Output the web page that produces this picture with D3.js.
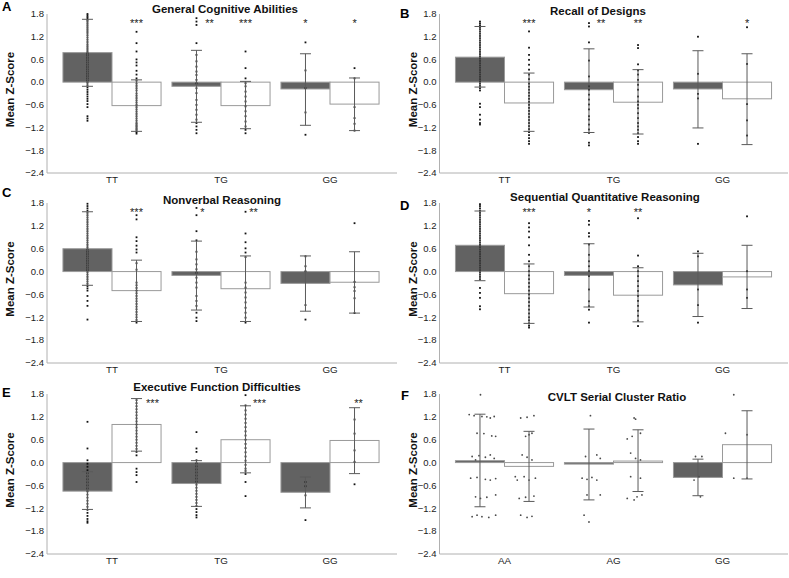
<!DOCTYPE html>
<html><head><meta charset="utf-8">
<script src="https://cdn.jsdelivr.net/npm/d3@7/dist/d3.min.js"></script>
<style>
html,body{margin:0;padding:0;background:#fff;}
svg{display:block;font-family:Arial,"Liberation Sans",sans-serif;}
</style></head>
<body><svg id="chart" width="789" height="578"></svg>
<script>
// ---------- DATA ----------
const genotypeCats = ["TT", "TG", "GG"];
const cvltCats = ["AA", "AG", "GG"];
const yTicks = [-2.4, -1.8, -1.2, -0.6, 0.0, 0.6, 1.2, 1.8];
const panelTitles = ["General Cognitive Abilities", "Recall of Designs", "Nonverbal Reasoning",
  "Sequential Quantitative Reasoning", "Executive Function Difficulties", "CVLT Serial Cluster Ratio"];
const panelLetters = ["A", "B", "C", "D", "E", "F"];

// means per category: [dark, white]
const aMean = [[0.78, -0.62], [-0.11, -0.62], [-0.18, -0.58]];
const aLow  = [[-0.11, -1.30], [-1.06, -1.23], [-1.14, -1.28]];
const aHigh = [[1.66, 0.06], [0.84, 0.02], [0.75, 0.11]];
const aStars = [["", "***"], ["**", "***"], ["*", "*"]];
const aDots = [
  [[1.8,1.76,1.72,1.68,1.64,1.6,1.55,1.5,1.45,1.4,1.35,1.3,1.24,1.18,1.12,1.06,1.0,0.95,0.9,0.85,0.8,0.75,0.7,0.64,0.58,0.52,0.46,0.4,0.34,0.28,0.22,0.16,0.1,0.04,-0.02,-0.08,-0.14,-0.2,-0.26,-0.32,-0.38,-0.44,-0.5,-0.58,-0.66,-0.9,-0.96,-1.02],
   [1.33,1.03,0.81,0.6,0.52,0.44,0.3,0.2,0.1,0.04,-0.04,-0.1,-0.16,-0.22,-0.3,-0.36,-0.42,-0.48,-0.54,-0.6,-0.66,-0.72,-0.78,-0.84,-0.9,-0.96,-1.02,-1.08,-1.12,-1.16,-1.2,-1.24,-1.28,-1.32,-1.36]],
  [[1.69,1.6,1.51,1.03,0.72,0.55,0.41,0.28,0.19,0.06,-0.03,-0.16,-0.29,-0.47,-0.6,-0.73,-0.86,-0.99,-1.08,-1.17,-1.26,-1.35],
   [0.81,0.37,0.1,-0.03,-0.11,-0.25,-0.38,-0.51,-0.64,-0.77,-0.9,-1.04,-1.17,-1.26,-1.35]],
  [[1.05,0.31,-0.16,-0.8,-1.39],
   [0.37,0.1,-0.66,-0.95,-1.1,-1.28]]
];

const bMean = [[0.66, -0.55], [-0.20, -0.53], [-0.18, -0.44]];
const bLow  = [[-0.13, -1.30], [-1.33, -1.37], [-1.21, -1.65]];
const bHigh = [[1.47, 0.24], [0.88, 0.33], [0.83, 0.75]];
const bStars = [["", "***"], ["**", "**"], ["", "*"]];
const bDots = [
  [[1.6,1.55,1.5,1.45,1.4,1.34,1.28,1.22,1.16,1.1,1.04,0.98,0.92,0.86,0.8,0.74,0.68,0.62,0.56,0.5,0.44,0.38,0.32,0.26,0.2,0.14,0.08,0.02,-0.04,-0.1,-0.16,-0.22,-0.57,-0.66,-0.86,-0.99,-1.08,-1.12],
   [1.34,0.91,0.72,0.59,0.46,0.33,0.2,0.08,-0.04,-0.12,-0.2,-0.28,-0.36,-0.44,-0.52,-0.6,-0.68,-0.76,-0.84,-0.92,-1.0,-1.08,-1.16,-1.24,-1.32,-1.4,-1.48,-1.56,-1.63]],
  [[1.56,1.47,1.05,0.57,0.15,-0.11,-0.2,-0.33,-0.46,-0.59,-0.72,-0.9,-0.99,-1.12,-1.25,-1.34,-1.6,-1.67],
   [0.98,0.9,0.47,0.31,0.2,0.06,-0.07,-0.2,-0.38,-0.51,-0.6,-0.69,-0.82,-0.95,-1.08,-1.17,-1.26,-1.35,-1.45,-1.56,-1.63]],
  [[1.2,0.22,-0.31,-0.43,-1.63],
   [1.45,0.48,-0.58,-1.01,-1.41]]
];

const cMean = [[0.60, -0.50], [-0.10, -0.45], [-0.31, -0.28]];
const cLow  = [[-0.36, -1.31], [-1.01, -1.31], [-1.04, -1.09]];
const cHigh = [[1.57, 0.30], [0.80, 0.41], [0.41, 0.52]];
const cStars = [["", "***"], ["*", "**"], ["", ""]];
const cDots = [
  [[1.78,1.72,1.66,1.6,1.54,1.48,1.42,1.36,1.3,1.24,1.18,1.12,1.06,1.0,0.94,0.88,0.82,0.76,0.7,0.64,0.58,0.52,0.46,0.4,0.34,0.28,0.22,0.16,0.1,0.04,-0.02,-0.08,-0.14,-0.2,-0.26,-0.32,-0.38,-0.44,-0.5,-0.64,-0.77,-0.9,-1.26],
   [1.48,1.37,0.9,0.8,0.68,0.58,0.5,0.22,0.05,-0.29,-0.36,-0.43,-0.5,-0.57,-0.64,-0.71,-0.78,-0.85,-0.92,-0.99,-1.06,-1.13,-1.2,-1.27,-1.34]],
  [[1.67,1.48,1.06,0.82,0.52,0.32,0.19,0.06,-0.03,-0.16,-0.29,-0.42,-0.64,-0.77,-0.9,-1.08,-1.21,-1.3],
   [1.57,1.0,0.77,0.61,0.5,0.38,-0.29,-0.42,-0.55,-0.68,-0.81,-0.95,-1.08,-1.21,-1.34]],
  [[0.4,0.14,0.01,-0.88,-1.26],
   [1.27,-0.27,-0.41,-0.51,-0.7,-1.09]]
];

const dMean = [[0.69, -0.58], [-0.10, -0.62], [-0.35, -0.14]];
const dLow  = [[-0.24, -1.36], [-0.93, -1.32], [-1.18, -0.97]];
const dHigh = [[1.59, 0.20], [0.73, 0.10], [0.48, 0.69]];
const dStars = [["", "***"], ["*", "**"], ["", ""]];
const dDots = [
  [[1.77,1.72,1.66,1.6,1.54,1.48,1.42,1.36,1.3,1.24,1.18,1.12,1.06,1.0,0.94,0.88,0.82,0.76,0.7,0.64,0.58,0.52,0.46,0.4,0.34,0.28,0.22,0.16,0.1,0.04,-0.02,-0.08,-0.14,-0.2,-0.43,-0.56,-0.69,-0.91,-0.99],
   [1.27,1.16,1.05,0.9,0.69,0.44,0.27,0.14,0.01,-0.1,-0.2,-0.3,-0.4,-0.5,-0.6,-0.7,-0.8,-0.9,-1.0,-1.1,-1.2,-1.28,-1.36,-1.42,-1.47]],
  [[1.33,1.23,1.01,0.92,0.71,0.44,0.27,0.14,0.01,-0.12,-0.47,-0.78,-0.91,-1.0,-1.34],
   [1.4,0.42,0.14,0.01,-0.12,-0.25,-0.38,-0.51,-0.64,-0.77,-0.9,-1.03,-1.16,-1.29,-1.43]],
  [[0.53,0.4,-0.47,-0.88,-1.34],
   [1.45,0.01,-0.47,-0.69]]
];

const eMean = [[-0.75, 1.00], [-0.55, 0.60], [-0.78, 0.58]];
const eLow  = [[-1.23, 0.30], [-1.15, -0.27], [-1.19, -0.29]];
const eHigh = [[-0.24, 1.68], [0.05, 1.49], [-0.38, 1.44]];
const eStars = [["", "***"], ["", "***"], ["", "**"]];
const eDots = [
  [[1.07,0.37,0.06,-0.03,-0.11,-0.2,-0.28,-0.36,-0.44,-0.52,-0.6,-0.68,-0.76,-0.84,-0.92,-1.0,-1.08,-1.16,-1.24,-1.32,-1.4,-1.48,-1.54,-1.58],
   [1.64,1.56,1.48,1.4,1.32,1.24,1.16,1.08,1.0,0.92,0.84,0.76,0.68,0.6,0.52,0.44,0.36,0.28,0.19,-0.16,-0.25,-0.33,-0.51]],
  [[0.8,0.37,0.28,0.06,-0.02,-0.1,-0.18,-0.26,-0.34,-0.42,-0.5,-0.58,-0.66,-0.74,-0.82,-0.9,-0.98,-1.06,-1.14,-1.22,-1.3,-1.38,-1.44],
   [1.77,1.5,1.37,1.26,1.15,1.04,0.93,0.82,0.71,0.6,0.49,0.38,0.27,0.16,0.05,-0.06,-0.16,-0.22,-0.3,-0.51,-0.88]],
  [[-0.51,-0.62,-0.86,-1.51],
   [1.13,0.76,0.32,0.02,-0.57]]
];

const fMean = [[0.05, -0.10], [-0.04, 0.04], [-0.39, 0.47]];
const fLow  = [[-1.16, -1.02], [-0.98, -0.76], [-0.87, -0.43]];
const fHigh = [[1.27, 0.82], [0.88, 0.86], [0.09, 1.36]];
const fStars = [["", ""], ["", ""], ["", ""]];
const fDots = [
  [[1.78,1.26,1.23,1.21,1.2,1.17,1.21,0.77,0.76,0.7,0.69,0.16,0.18,0.14,0.2,0.11,0.07,-0.41,-0.39,-0.44,-0.46,-0.42,-0.9,-0.94,-0.91,-0.85,-1.42,-1.38,-1.42,-1.44,-1.38],
   [1.17,1.19,1.23,0.69,0.73,0.77,0.2,0.14,0.07,-0.37,-0.46,-0.37,-0.46,-0.41,-0.94,-0.91,-0.88,-1.38,-1.44,-1.41]],
  [[1.23,0.16,0.2,0.11,-0.41,-0.44,-0.39,-0.46,-0.85,-0.85,-1.38,-1.56],
   [1.17,1.14,0.62,0.69,0.77,0.25,0.11,0.07,-0.37,-0.41,-0.94,-0.98,-0.9,-0.85]],
  [[0.16,0.16,-0.37,-0.46,-0.9],
   [1.78,0.77,0.73,-0.41,-0.41]]
];
// horizontal jitter of the CVLT points, as a fraction of bar width
const fJitter = [
  [[0.01,-0.22,-0.12,0.04,0.14,0.21,0.29,-0.06,0.08,0.24,0.32,-0.16,-0.02,0.11,0.21,0.29,-0.09,-0.19,-0.06,0.11,0.21,0.32,-0.09,0.01,0.14,0.32,-0.16,-0.06,0.04,0.18,0.32],
   [-0.17,-0.04,0.1,-0.07,0,0.06,-0.14,-0.04,0.06,-0.28,-0.24,-0.1,0,0.13,-0.2,-0.07,0.1,-0.17,-0.04,0.06]],
  [[0.03,-0.07,0.16,0.23,-0.14,-0.04,0.06,0.16,-0.04,0.23,-0.1,0],
   [-0.08,-0.05,-0.22,-0.12,0.05,-0.15,-0.05,0.05,-0.15,0.05,-0.22,-0.08,-0.02,0.08]],
  [[-0.05,0.08,0.02,-0.08,0.05],
   [-0.27,-0.44,0,-0.27,0]]
];

// ---------- LAYOUT ----------
const colAxisX = [47, 439.5], colRight = [397, 788];
const rowTop = [14, 203, 394], rowBottom = [173, 363, 554];
const titlePos = [[225, 13], [598, 15], [222, 204], [605, 201], [217, 391], [617, 401]];
const letterPos = [[2, 11], [400, 18], [2, 197], [400, 210], [2, 397], [401, 400]];
const yLabelX = [13.5, 417];
const starShift = [[[0,0],[13,0],[0,0]], [[0,0],[12,0],[0,0]], [[0,0],[6,8],[0,0]],
                   [[0,0],[0,0],[0,0]], [[0,16],[0,14],[0,4]], [[0,0],[0,0],[0,0]]];

const panels = [
  {cats: genotypeCats, mean: aMean, low: aLow, high: aHigh, stars: aStars, dots: aDots},
  {cats: genotypeCats, mean: bMean, low: bLow, high: bHigh, stars: bStars, dots: bDots},
  {cats: genotypeCats, mean: cMean, low: cLow, high: cHigh, stars: cStars, dots: cDots},
  {cats: genotypeCats, mean: dMean, low: dLow, high: dHigh, stars: dStars, dots: dDots},
  {cats: genotypeCats, mean: eMean, low: eLow, high: eHigh, stars: eStars, dots: eDots},
  {cats: cvltCats, mean: fMean, low: fLow, high: fHigh, stars: fStars, dots: fDots, jitter: fJitter}
];

const svg = d3.select("#chart");
const barFill = ["#626262", "#ffffff"];
const barStroke = ["#9a9a9a", "#9a9a9a"];

panels.forEach((p, i) => {
  const col = i % 2, row = Math.floor(i / 2);
  const ax = colAxisX[col], right = colRight[col], top = rowTop[row], bottom = rowBottom[row];
  const y = d3.scaleLinear().domain([-2.4, 1.8]).range([bottom, top]);
  const x = d3.scaleBand().domain(p.cats).range([ax + 10.5, ax + 10.5 + 327]).paddingInner(0.1).paddingOuter(0.05);
  const xs = d3.scaleBand().domain([0, 1]).range([0, x.bandwidth()]);
  const g = svg.append("g");

  g.append("line").attr("x1", ax).attr("x2", ax).attr("y1", top).attr("y2", bottom)
    .attr("stroke", "#b0b0b0").attr("stroke-width", 1);
  g.append("line").attr("x1", ax).attr("x2", right).attr("y1", bottom).attr("y2", bottom)
    .attr("stroke", "#b0b0b0").attr("stroke-width", 1);

  g.selectAll(".yt").data(yTicks).join("text")
    .attr("x", ax - 3).attr("y", d => y(d)).attr("dy", "0.35em")
    .attr("text-anchor", "end").attr("font-size", "9.5px").attr("fill", "#222")
    .text(d => d3.format(".1f")(d));

  g.selectAll(".xt").data(p.cats).join("text")
    .attr("x", d => x(d) + x.bandwidth() / 2).attr("y", bottom + 10)
    .attr("text-anchor", "middle").attr("font-size", "9.8px").attr("fill", "#222")
    .text(d => d);

  const cy = (top + bottom) / 2 - 4;
  g.append("text").attr("transform", `translate(${yLabelX[col]},${cy}) rotate(-90)`)
    .attr("text-anchor", "middle").attr("font-size", "11.5px").attr("font-weight", "bold")
    .attr("fill", "#111").text("Mean Z-Score");

  g.append("text").attr("x", titlePos[i][0]).attr("y", titlePos[i][1]).attr("text-anchor", "middle")
    .attr("font-size", "11.5px").attr("font-weight", "bold").attr("fill", "#111").text(panelTitles[i]);
  g.append("text").attr("x", letterPos[i][0]).attr("y", letterPos[i][1])
    .attr("font-size", "13px").attr("font-weight", "bold").attr("fill", "#000").text(panelLetters[i]);

  p.cats.forEach((cat, ci) => {
    [0, 1].forEach(si => {
      const bx = x(cat) + xs(si), bw = xs.bandwidth(), cx = bx + bw / 2;
      const m = p.mean[ci][si];
      g.append("rect").attr("x", bx).attr("width", bw)
        .attr("y", y(Math.max(0, m))).attr("height", Math.abs(y(m) - y(0)))
        .attr("fill", barFill[si]).attr("stroke", barStroke[si]).attr("stroke-width", 1);
      const vals = p.dots[ci][si];
      if (p.jitter) {
        g.selectAll(null).data(vals).join("circle")
          .attr("cx", (d, k) => cx + p.jitter[ci][si][k] * bw).attr("cy", d => y(d))
          .attr("r", 0.9).attr("fill", "#4a4a4a");
      } else {
        g.selectAll(null).data(vals).join("rect")
          .attr("x", cx - 0.9).attr("y", d => y(d) - 0.9).attr("width", 1.8).attr("height", 1.8)
          .attr("fill", "#111");
      }
      const lo = p.low[ci][si], hi = p.high[ci][si];
      const eg = g.append("g").attr("stroke", "#5a5a5a").attr("stroke-width", 1);
      eg.append("line").attr("x1", cx).attr("x2", cx).attr("y1", y(lo)).attr("y2", y(hi));
      eg.append("line").attr("x1", cx - 5.5).attr("x2", cx + 5.5).attr("y1", y(lo)).attr("y2", y(lo));
      eg.append("line").attr("x1", cx - 5.5).attr("x2", cx + 5.5).attr("y1", y(hi)).attr("y2", y(hi));
      const st = p.stars[ci][si];
      if (st) {
        g.append("text").attr("x", cx + starShift[i][ci][si]).attr("y", y(1.45))
          .attr("text-anchor", "middle").attr("font-size", "11px").attr("fill", "#222").text(st);
      }
    });
  });
});
</script></body></html>
